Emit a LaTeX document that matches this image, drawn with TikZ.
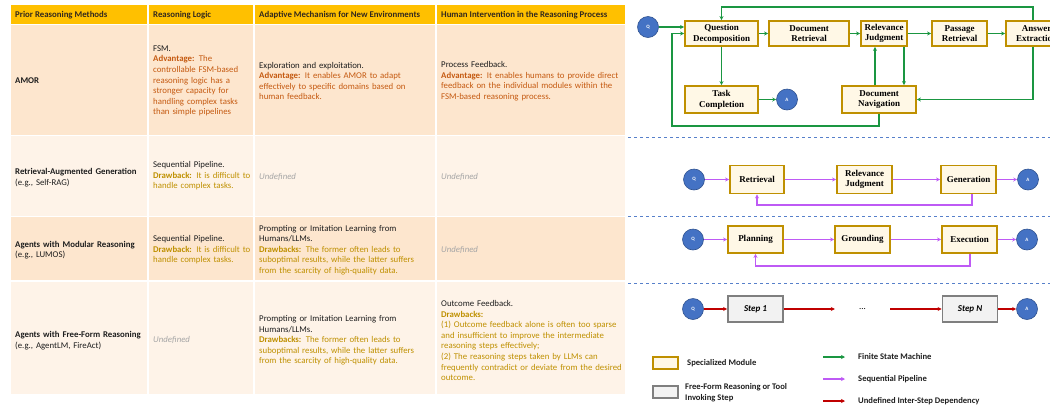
\documentclass[tikz,border=0pt]{standalone}
\usepackage{fontspec}
\setmainfont{Carlito}
\newfontfamily\boxfont{Liberation Serif}
\usepackage{xcolor}
\usetikzlibrary{arrows.meta, positioning, calc}

\definecolor{headamber}{RGB}{255,192,0}
\definecolor{rowpeach}{RGB}{253,230,206}
\definecolor{rowcream}{RGB}{254,243,232}
\definecolor{headink}{RGB}{50,40,30}
\definecolor{bodyink}{RGB}{30,30,30}
\definecolor{advorange}{RGB}{197,90,17}
\definecolor{drawgold}{RGB}{191,144,0}
\definecolor{undefgray}{RGB}{166,166,166}
\definecolor{modgold}{RGB}{191,144,0}
\definecolor{modfill}{RGB}{255,248,230}
\definecolor{stepgray}{RGB}{127,127,127}
\definecolor{stepfill}{RGB}{242,242,242}
\definecolor{qablue}{RGB}{68,114,196}
\definecolor{qaedge}{RGB}{47,82,143}
\definecolor{fsmgreen}{RGB}{26,150,65}
\definecolor{seqpurple}{RGB}{190,90,245}
\definecolor{undred}{RGB}{192,0,0}

\tikzset{
    tabcell/.style={fill=#1, draw=white, line width=1.2pt},
    headtext/.style={anchor=west, inner sep=0pt, text=headink, font=\bfseries\fontsize{8.8}{10.6}\selectfont},
    celltext/.style={anchor=west, inner sep=0pt, align=left, text=bodyink, font=\fontsize{8.8}{10.6}\selectfont},
    undeftext/.style={anchor=west, inner sep=0pt, text=undefgray, font=\itshape\fontsize{8.8}{10.6}\selectfont},
    modbox/.style={rectangle, draw=modgold, fill=modfill, line width=1.8pt, minimum width=#1, minimum height=27pt, inner sep=1pt, align=center, font=\boxfont\bfseries\fontsize{9}{10.7}\selectfont},
    modbox/.default=55pt,
    stepbox/.style={rectangle, draw=stepgray, fill=stepfill, line width=1.8pt, minimum width=55pt, minimum height=26pt, font=\bfseries\itshape\fontsize{9}{10}\selectfont},
    qanode/.style={circle, fill=qablue, draw=qaedge, line width=0.6pt, minimum size=21pt, inner sep=0pt, text=white, font=\bfseries\fontsize{5}{6}\selectfont},
    fsmarrow/.style={-{Stealth[length=4pt,width=4pt]}, fsmgreen, line width=1.2pt},
    seqarrow/.style={-{Stealth[length=4pt,width=4pt]}, seqpurple, line width=1.2pt},
    undarrow/.style={-{Stealth[length=4pt,width=4pt]}, undred, line width=1.2pt},
    rowsep/.style={qablue!90, dashed, line width=0.6pt},
    legtext/.style={anchor=west, inner sep=0pt, align=left, text=bodyink, font=\bfseries\fontsize{8.6}{10.8}\selectfont}
}

\begin{document}
\begin{tikzpicture}[x=1pt, y=-1pt]

\useasboundingbox (0,0) rectangle (1050,408);
\clip (0,0) rectangle (1050,408);

% table cells
\foreach \ya/\yb/\tone in {4/24.5/headamber, 24.5/135.5/rowpeach, 135.5/216.5/rowcream, 216.5/281/rowpeach, 281/395/rowcream}
    \foreach \xa/\xb in {10/148, 148/254, 254/436, 436/626}
        \filldraw[tabcell=\tone] (\xa,\ya) rectangle (\xb,\yb);

% header
\node[headtext] (h1) at (15,15) {Prior Reasoning Methods};
\node[headtext] (h2) at (153,15) {Reasoning Logic};
\node[headtext] (h3) at (259,15) {Adaptive Mechanism for New Environments};
\node[headtext] (h4) at (441,15) {Human Intervention in the Reasoning Process};

% AMOR
\node[celltext, text width=131pt] (amor) at (15,81) {\textbf{AMOR}};
\node[celltext, text width=98pt] (amorlogic) at (153,81) {FSM.\\{\color{advorange}\textbf{Advantage:} The\\controllable FSM-based\\reasoning logic has a\\stronger capacity for\\handling complex tasks\\than simple pipelines}};
\node[celltext, text width=175pt] (amoradapt) at (259,81) {Exploration and exploitation.\\{\color{advorange}\textbf{Advantage:} It enables AMOR to adapt\\effectively to specific domains based on\\human feedback.}};
\node[celltext, text width=183pt] (amorhuman) at (441,81) {Process Feedback.\\{\color{advorange}\textbf{Advantage:} It enables humans to provide direct\\feedback on the individual modules within the\\FSM-based reasoning process.}};

% RAG
\node[celltext, text width=131pt] (rag) at (15,177.5) {\textbf{Retrieval-Augmented Generation}\\(e.g., Self-RAG)};
\node[celltext, text width=98pt] (raglogic) at (153,176) {Sequential Pipeline.\\{\color{drawgold}\textbf{Drawback:} It is difficult to\\handle complex tasks.}};
\node[undeftext] (ragadapt) at (259,177) {Undefined};
\node[undeftext] (raghuman) at (441,177) {Undefined};

% modular agents
\node[celltext, text width=131pt] (modag) at (15,250) {\textbf{Agents with Modular Reasoning}\\(e.g., LUMOS)};
\node[celltext, text width=98pt] (modlogic) at (153,250) {Sequential Pipeline.\\{\color{drawgold}\textbf{Drawback:} It is difficult to\\handle complex tasks.}};
\node[celltext, text width=175pt] (modadapt) at (259,250) {Prompting or Imitation Learning from\\Humans/LLMs.\\{\color{drawgold}\textbf{Drawbacks:} The former often leads to\\suboptimal results, while the latter suffers\\from the scarcity of high-quality data.}};
\node[undeftext] (modhuman) at (441,250) {Undefined};

% free-form agents
\node[celltext, text width=131pt] (ffag) at (15,340.5) {\textbf{Agents with Free-Form Reasoning}\\(e.g., AgentLM, FireAct)};
\node[undeftext] (fflogic) at (153,340) {Undefined};
\node[celltext, text width=175pt] (ffadapt) at (259,340.5) {Prompting or Imitation Learning from\\Humans/LLMs.\\{\color{drawgold}\textbf{Drawbacks:} The former often leads to\\suboptimal results, while the latter suffers\\from the scarcity of high-quality data.}};
\node[celltext, text width=183pt] (ffhuman) at (441,340.5) {Outcome Feedback.\\{\color{drawgold}\textbf{Drawbacks:}\\(1) Outcome feedback alone is often too sparse\\and insufficient to improve the intermediate\\reasoning steps effectively;\\(2) The reasoning steps taken by LLMs can\\frequently contradict or deviate from the desired\\outcome.}};

% separators
\foreach \y in {137, 216.5, 283}
    \draw[rowsep] (628,\y) -- (1050,\y);

% FSM
\node[qanode] (q1) at (648,27) {Q};
\node[modbox=73pt, minimum height=25pt] (qd) at (721.5,33.5) {Question\\Decomposition};
\node[modbox=80pt, minimum height=25pt] (dr) at (809,33.5) {Document\\Retrieval};
\node[modbox=46pt, minimum height=25pt] (rj) at (884,33.5) {Relevance\\Judgment};
\node[modbox=55pt, minimum height=25pt] (pr) at (959.5,33.5) {Passage\\Retrieval};
\node[modbox=61pt, minimum height=25pt] (ae) at (1036.5,33.5) {Answer\\Extraction};
\node[modbox=73pt] (tc) at (721.5,99.5) {Task\\Completion};
\node[qanode] (a1) at (787,99.5) {A};
\node[modbox=74pt] (dn) at (879,99.5) {Document\\Navigation};

\coordinate (fsmtop) at (1033,7);
\coordinate (rjdown) at (904,0);
\coordinate (dnup) at (875,0);
\coordinate (fsmbot) at (672,126);

\draw[fsmarrow] (q1) -- (q1 -| qd.west);
\draw[fsmarrow] (qd) -- (dr);
\draw[fsmarrow] (dr) -- (rj);
\draw[fsmarrow] (rj) -- (pr);
\draw[fsmarrow] (pr) -- (ae);
\draw[fsmarrow] (ae.north -| fsmtop) -- (fsmtop) -| (qd.north);
\draw[fsmarrow] (qd) -- (tc);
\draw[fsmarrow] (tc) -- (a1);
\draw[fsmarrow] (ae.south -| fsmtop) |- (dn.east);
\draw[fsmarrow] (rj.south -| rjdown) -- (dn.north -| rjdown);
\draw[fsmarrow] (dn.north -| dnup) -- (rj.south -| dnup);
\draw[fsmarrow] (dn.south) |- (fsmbot) |- (qd.west);

% RAG pipeline
\node[qanode] (q2) at (694,179.5) {Q};
\node[modbox=54pt, minimum height=28pt] (ret) at (757,179.5) {Retrieval};
\node[modbox=55pt, minimum height=28pt] (rel) at (864.5,179.5) {Relevance\\Judgment};
\node[modbox=55pt, minimum height=28pt] (gen) at (968.5,179.5) {Generation};
\node[qanode] (a2) at (1028,179.5) {A};

\coordinate (ragfb) at (972,205);
\draw[seqarrow] (q2) -- (ret);
\draw[seqarrow] (ret) -- (rel);
\draw[seqarrow] (rel) -- (gen);
\draw[seqarrow] (gen) -- (a2);
\draw[seqarrow] (gen.south -| ragfb) -- (ragfb) -| (ret.south);

% modular pipeline
\node[qanode] (q3) at (693,239.5) {Q};
\node[modbox] (plan) at (755.5,239.5) {Planning};
\node[modbox] (grd) at (862.5,239.5) {Grounding};
\node[modbox] (exe) at (969.5,239.5) {Execution};
\node[qanode] (a3) at (1027,239.5) {A};

\coordinate (modfb) at (970,266);
\draw[seqarrow] (q3) -- (plan);
\draw[seqarrow] (plan) -- (grd);
\draw[seqarrow] (grd) -- (exe);
\draw[seqarrow] (exe) -- (a3);
\draw[seqarrow] (exe.south -| modfb) -- (modfb) -| (plan.south);

% free-form steps
\node[qanode] (q4) at (693,309) {Q};
\node[stepbox] (s1) at (755.5,309) {Step 1};
\node[minimum width=55pt, inner sep=0pt, font=\fontsize{9}{10}\selectfont] (dots) at (862.5,309) {...};
\node[stepbox] (sn) at (970,309) {Step N};
\node[qanode] (a4) at (1027,309) {A};

\draw[undarrow] (q4) -- (s1);
\draw[undarrow] (s1) -- (dots);
\draw[undarrow] (dots) -- (sn);
\draw[undarrow] (sn) -- (a4);

% legend
\node[modbox=25pt, minimum height=12pt, line width=1.5pt] (lgmod) at (665.5,363) {};
\node[legtext] (lgmodtxt) at (687,363) {Specialized Module};
\node[stepbox, minimum width=25pt, minimum height=12pt, line width=1.5pt] (lgstep) at (665.5,392) {};
\node[legtext] (lgsteptxt) at (685,392.5) {Free-Form Reasoning or Tool\\Invoking Step};

\coordinate (lgfa) at (823,357);
\coordinate (lgfb) at (845,357);
\coordinate (lgsa) at (823,379);
\coordinate (lgsb) at (845,379);
\coordinate (lgua) at (823,401);
\coordinate (lgub) at (845,401);
\draw[fsmarrow] (lgfa) -- (lgfb);
\draw[seqarrow] (lgsa) -- (lgsb);
\draw[undarrow] (lgua) -- (lgub);
\node[legtext] (lgfsm) at (858,357) {Finite State Machine};
\node[legtext] (lgseq) at (858,379) {Sequential Pipeline};
\node[legtext] (lgund) at (858,401) {Undefined Inter-Step Dependency};

\end{tikzpicture}
\end{document}
